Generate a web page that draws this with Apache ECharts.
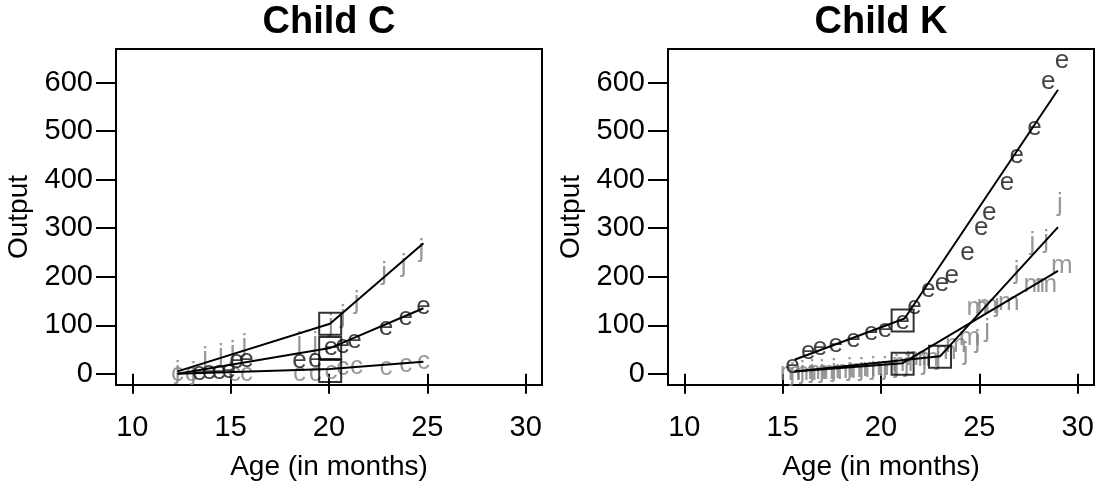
<!DOCTYPE html>
<html><head><meta charset="utf-8">
<script src="https://cdn.jsdelivr.net/npm/echarts@6/dist/echarts.min.js"></script>
<style>html,body{margin:0;padding:0;background:#fff}#c{width:1104px;height:482px}</style>
</head><body><div id="c"></div>
<script>
// ---- tick labels / titles ----
const xTicks = [10, 15, 20, 25, 30];
const yTicks = [0, 100, 200, 300, 400, 500, 600];
const panelTitles = ['Child C', 'Child K'];
const xName = 'Age (in months)';
const yName = 'Output';

// ---- Child C ----
const C_c_x = [12.3, 13.0, 15.2, 15.8, 18.5, 19.3, 20.1, 20.7, 21.4, 22.9, 23.9, 24.8];
const C_c_y = [0, 0, 1, 1, 0, 0, 5, 12, 14, 12, 18, 24];
const C_e_x = [13.4, 13.9, 14.4, 14.9, 15.3, 15.8, 18.5, 19.3, 20.1, 20.7, 21.3, 22.9, 23.9, 24.8];
const C_e_y = [3, 4, 5, 6, 26, 29, 26, 29, 53, 57, 67, 94, 116, 139];
const C_j_x = [12.3, 13.1, 13.7, 14.5, 15.1, 15.7, 18.5, 19.3, 20.1, 20.7, 21.4, 22.8, 23.8, 24.7];
const C_j_y = [5, 2, 32, 40, 45, 60, 64, 64, 101, 119, 149, 208, 225, 256];
const C_fit_c_x = [12.3, 20.05, 24.8], C_fit_c_y = [0, 10, 25];
const C_fit_e_x = [12.3, 20.05, 24.8], C_fit_e_y = [0, 53, 135];
const C_fit_j_x = [12.3, 20.05, 24.8], C_fit_j_y = [5, 103, 269];
const C_box_x = [20.06, 20.06, 20.06], C_box_y = [6, 53, 103];

// ---- Child K ----
const K_e_x = [15.5, 16.3, 16.9, 17.7, 18.6, 19.5, 20.2, 21.1, 21.7, 22.4, 23.1, 23.6, 24.4, 25.1, 25.5, 26.4, 26.9, 27.8, 28.5, 29.2];
const K_e_y = [17, 45, 53, 60, 70, 84, 91, 107, 139, 173, 185, 201, 249, 300, 331, 393, 448, 506, 602, 644];
const K_j_x = [15.5, 16.0, 16.5, 17.0, 17.6, 18.4, 19.0, 19.6, 20.2, 20.8, 21.3, 22.2, 22.9, 24.3, 24.9, 25.4, 25.9, 26.9, 27.7, 28.4, 29.1];
const K_j_y = [0, 4, 6, 7, 8, 10, 11, 12, 13, 16, 18, 23, 33, 43, 67, 91, 142, 211, 269, 273, 350];
const K_m_x = [15.4, 16.2, 16.8, 17.5, 18.2, 18.9, 19.6, 20.3, 21.1, 21.8, 22.4, 23.3, 23.8, 24.5, 24.9, 25.4, 26.5, 27.8, 28.4, 29.2];
const K_m_y = [2, 3, 4, 5, 6, 8, 10, 12, 21, 33, 30, 45, 60, 74, 136, 140, 146, 184, 183, 222];
const K_fit_e_x = [15.6, 21.2, 29.0], K_fit_e_y = [29, 114, 585];
const K_fit_j_x = [15.6, 23.0, 29.0], K_fit_j_y = [5, 36, 302];
const K_fit_m_x = [15.6, 21.1, 29.0], K_fit_m_y = [5, 22, 212];
const K_box_x = [21.1, 23.0, 21.1], K_box_y = [110, 35, 21];

const FONT = '"Liberation Sans", Arial, sans-serif';
const GRAY = '#7f7f7f';
const BLACK = '#111';

const zip = (xs, ys) => xs.map((x, i) => [x, ys[i]]);

function letters(g, ch, xs, ys, color, z) {
  return {
    type: 'scatter', xAxisIndex: g, yAxisIndex: g, z: z,
    data: zip(xs, ys), symbol: 'circle', symbolSize: 2,
    itemStyle: { color: 'rgba(0,0,0,0)' },
    label: { show: true, position: 'inside', formatter: ch, fontSize: 26, color: color, fontFamily: FONT },
    silent: true
  };
}
function fit(g, xs, ys) {
  return {
    type: 'line', xAxisIndex: g, yAxisIndex: g, z: 5, data: zip(xs, ys),
    showSymbol: false, symbol: 'none', lineStyle: { color: '#000', width: 2 }, silent: true
  };
}
function boxes(g, xs, ys) {
  return {
    type: 'scatter', xAxisIndex: g, yAxisIndex: g, z: 6, data: zip(xs, ys),
    symbol: 'rect', symbolSize: 22,
    itemStyle: { color: 'rgba(0,0,0,0)', borderColor: '#000', borderWidth: 2 }, silent: true
  };
}

const gridLefts = [116, 668];
const grids = gridLefts.map(l => ({
  left: l, top: 49, width: 426, height: 336, show: true,
  borderColor: '#000', borderWidth: 2, backgroundColor: 'rgba(0,0,0,0)',
  containLabel: false, outerBoundsMode: 'none'
}));
const xAxes = [0, 1].map(g => ({
  gridIndex: g, type: 'value', min: 9.17, max: 30.83,
  axisLine: { show: false }, splitLine: { show: false },
  axisTick: { show: true, inside: false, length: 20, lineStyle: { color: '#000', width: 2 }, customValues: xTicks },
  axisLabel: { show: true, customValues: xTicks, fontSize: 29, color: '#000', margin: 28, fontFamily: FONT },
  name: xName, nameLocation: 'middle', nameGap: 82,
  nameTextStyle: { fontSize: 28, color: '#000', verticalAlign: 'middle', fontFamily: FONT }
}));
const yAxes = [0, 1].map(g => ({
  gridIndex: g, type: 'value', min: -23, max: 669,
  axisLine: { show: false }, splitLine: { show: false },
  axisTick: { show: true, inside: false, length: 20, lineStyle: { color: '#000', width: 2 }, customValues: yTicks },
  axisLabel: { show: true, customValues: yTicks, fontSize: 29, color: '#000', margin: 23, fontFamily: FONT, padding: [8, 0, 0, 0] },
  name: yName, nameLocation: 'middle', nameGap: 97,
  nameTextStyle: { fontSize: 28, color: '#000', verticalAlign: 'middle', fontFamily: FONT }
}));

const series = [
  letters(0, 'c', C_c_x, C_c_y, GRAY, 2),
  letters(0, 'e', C_e_x, C_e_y, BLACK, 3),
  letters(0, 'j', C_j_x, C_j_y, GRAY, 2),
  fit(0, C_fit_c_x, C_fit_c_y), fit(0, C_fit_e_x, C_fit_e_y), fit(0, C_fit_j_x, C_fit_j_y),
  boxes(0, C_box_x, C_box_y),
  letters(1, 'e', K_e_x, K_e_y, BLACK, 3),
  letters(1, 'j', K_j_x, K_j_y, GRAY, 2),
  letters(1, 'm', K_m_x, K_m_y, GRAY, 2),
  fit(1, K_fit_e_x, K_fit_e_y), fit(1, K_fit_j_x, K_fit_j_y), fit(1, K_fit_m_x, K_fit_m_y),
  boxes(1, K_box_x, K_box_y)
];

const titleCenters = [329, 881];
const graphic = panelTitles.map((t, i) => ({
  type: 'text', x: titleCenters[i], y: 42,
  style: { text: t, fill: '#000', font: 'bold 38px ' + FONT, textAlign: 'center', align: 'center', textVerticalAlign: 'bottom', verticalAlign: 'bottom' }
}));

const chart = echarts.init(document.getElementById('c'), null, { renderer: 'canvas' });
chart.setOption({
  animation: false,
  backgroundColor: '#fff',
  grid: grids, xAxis: xAxes, yAxis: yAxes, series: series, graphic: graphic
});
</script></body></html>
